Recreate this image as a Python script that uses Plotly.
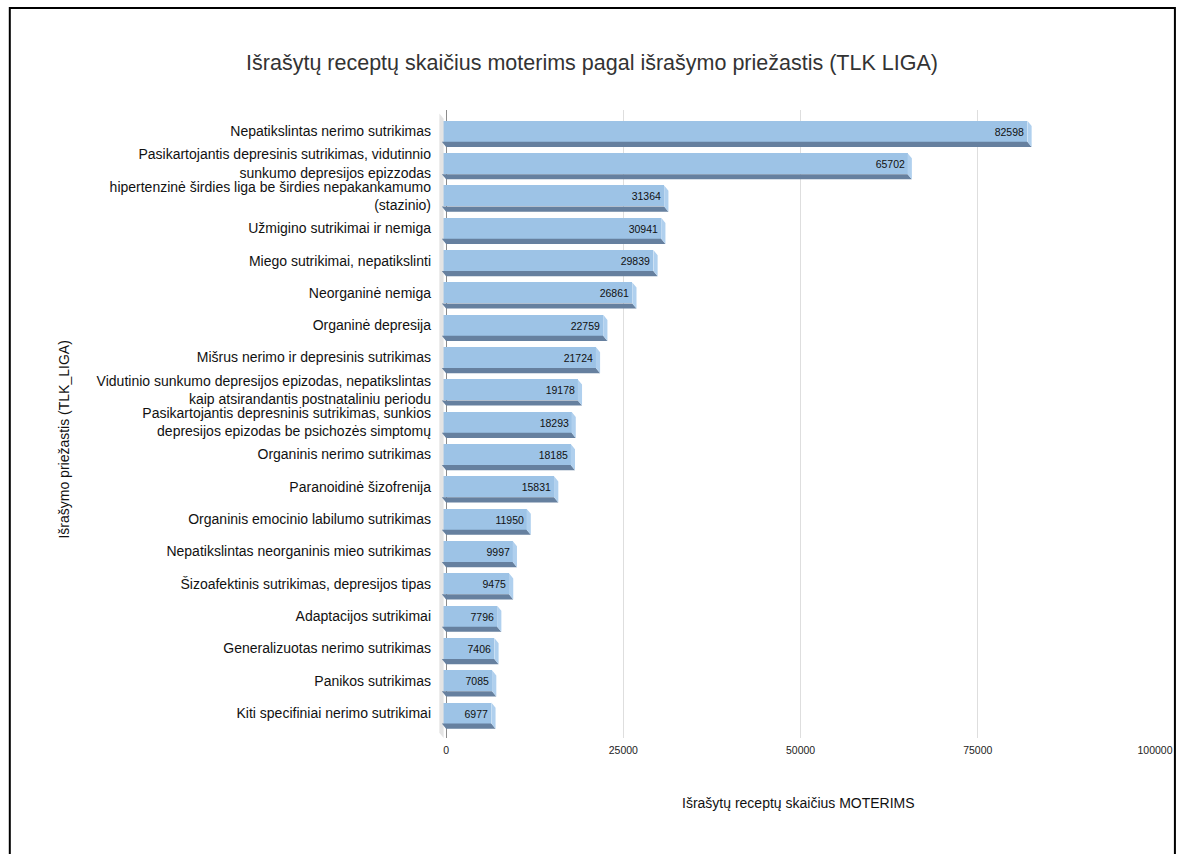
import plotly.graph_objects as go

# Prescription counts for women by diagnosis (ICD code group)
categories = [
    "Nepatikslintas nerimo sutrikimas",
    "Pasikartojantis depresinis sutrikimas, vidutinnio<br>sunkumo depresijos epizzodas",
    "hipertenzinė širdies liga be širdies nepakankamumo<br>(stazinio)",
    "Užmigino sutrikimai ir nemiga",
    "Miego sutrikimai, nepatikslinti",
    "Neorganinė nemiga",
    "Organinė depresija",
    "Mišrus nerimo ir depresinis sutrikimas",
    "Vidutinio sunkumo depresijos epizodas, nepatikslintas<br>kaip atsirandantis postnataliniu periodu",
    "Pasikartojantis depresninis sutrikimas, sunkios<br>depresijos epizodas be psichozės simptomų",
    "Organinis nerimo sutrikimas",
    "Paranoidinė šizofrenija",
    "Organinis emocinio labilumo sutrikimas",
    "Nepatikslintas neorganinis mieo sutrikimas",
    "Šizoafektinis sutrikimas, depresijos tipas",
    "Adaptacijos sutrikimai",
    "Generalizuotas nerimo sutrikimas",
    "Panikos sutrikimas",
    "Kiti specifiniai nerimo sutrikimai",
]
values = [82598, 65702, 31364, 30941, 29839, 26861, 22759, 21724, 19178,
          18293, 18185, 15831, 11950, 9997, 9475, 7796, 7406, 7085, 6977]
x_ticks = [0, 25000, 50000, 75000, 100000]

FONT = "Liberation Sans, Arial, sans-serif"
FRONT = "#9dc3e6"
BOTTOM = "#66809f"
SIDE = "#b0d0ee"
WALL = "#e4e4e4"

# pseudo-3D depth of each bar (x in data units, y in category units)
DX = 600
DY = 0.16
BW = 0.65
Y_RANGE = [18.77, -0.66]
X_RANGE = [-1000, 100000]

pos = list(range(len(categories)))

fig = go.Figure()

# left wall of the 3D box
wx0, wx1 = -950, -350
wall_x = [wx0, wx1, wx1, wx0, wx0]
wall_y = [-0.55, -0.55 + DY, 18.77, 18.77 - DY, -0.55]
fig.add_trace(go.Scatter(x=wall_x, y=wall_y, fill="toself", fillcolor=WALL,
                         mode="lines", line=dict(width=0), hoverinfo="skip",
                         showlegend=False))

# bottom faces and right side faces of the bars
bx, by, sx, sy = [], [], [], []
for p, v in zip(pos, values):
    top, bot = p - BW / 2, p + BW / 2
    bx += [-DX, v - DX, v, 0, -DX, None]
    by += [bot, bot, bot + DY, bot + DY, bot, None]
    sx += [v - DX, v, v, v - DX, v - DX, None]
    sy += [top, top + DY, bot + DY, bot, top, None]

fig.add_trace(go.Scatter(x=bx, y=by, fill="toself", fillcolor=BOTTOM,
                         mode="lines", line=dict(width=0), hoverinfo="skip",
                         showlegend=False))
fig.add_trace(go.Scatter(x=sx, y=sy, fill="toself", fillcolor=SIDE,
                         mode="lines", line=dict(width=0), hoverinfo="skip",
                         showlegend=False))

# front faces of the bars with value labels
fig.add_trace(go.Bar(
    y=pos, x=values, base=-DX, orientation="h", width=BW,
    marker=dict(color=FRONT, line=dict(width=0)),
    text=[str(v) for v in values], textposition="inside",
    insidetextanchor="end", textangle=0, constraintext="none",
    textfont=dict(family=FONT, size=10.5, color="#111111"),
    showlegend=False,
))

fig.update_layout(
    width=1185, height=854,
    margin=dict(l=439, r=27, t=110, b=116),
    paper_bgcolor="white", plot_bgcolor="white",
    font=dict(family=FONT, color="#111111"),
    title=dict(
        text="Išrašytų receptų skaičius moterims pagal išrašymo priežastis (TLK LIGA)",
        x=(592 - 0) / 1185, xanchor="center", y=1 - 62 / 854, yanchor="middle",
        font=dict(family=FONT, size=21.5, color="#333333"),
    ),
    bargap=0,
    xaxis=dict(
        range=X_RANGE, tickvals=x_ticks, ticktext=[str(t) for t in x_ticks],
        showgrid=True, gridcolor="#dedede", gridwidth=1,
        zeroline=True, zerolinecolor="#8c8c8c", zerolinewidth=1,
        showline=False, ticks="", tickfont=dict(family=FONT, size=10.5, color="#222222"),
        ticklabelstandoff=4,
        fixedrange=True,
    ),
    yaxis=dict(
        range=Y_RANGE, tickvals=pos, ticktext=categories,
        showgrid=False, zeroline=False, showline=False, ticks="",
        tickfont=dict(family=FONT, size=14, color="#111111"),
        ticklabelstandoff=7,
        fixedrange=True,
    ),
    annotations=[
        dict(text="Išrašytų receptų skaičius MOTERIMS", xref="paper", yref="paper",
             x=(800 - 439) / 719, y=(738 - 803) / 628, xanchor="center", yanchor="middle",
             showarrow=False, font=dict(family=FONT, size=14, color="#111111")),
        dict(text="Išrašymo priežastis (TLK_LIGA)", xref="paper", yref="paper",
             x=(62 - 439) / 719, y=(738 - 440) / 628, xanchor="center", yanchor="middle",
             textangle=-90, showarrow=False,
             font=dict(family=FONT, size=14, color="#111111")),
    ],
    shapes=[
        dict(type="rect", xref="paper", yref="paper",
             x0=(8 - 439) / 719, x1=(1178 - 439) / 719,
             y0=(738 - 870) / 628, y1=(738 - 8) / 628,
             line=dict(color="black", width=2), fillcolor="rgba(0,0,0,0)", layer="above"),
    ],
)

fig.write_html("out.html")
